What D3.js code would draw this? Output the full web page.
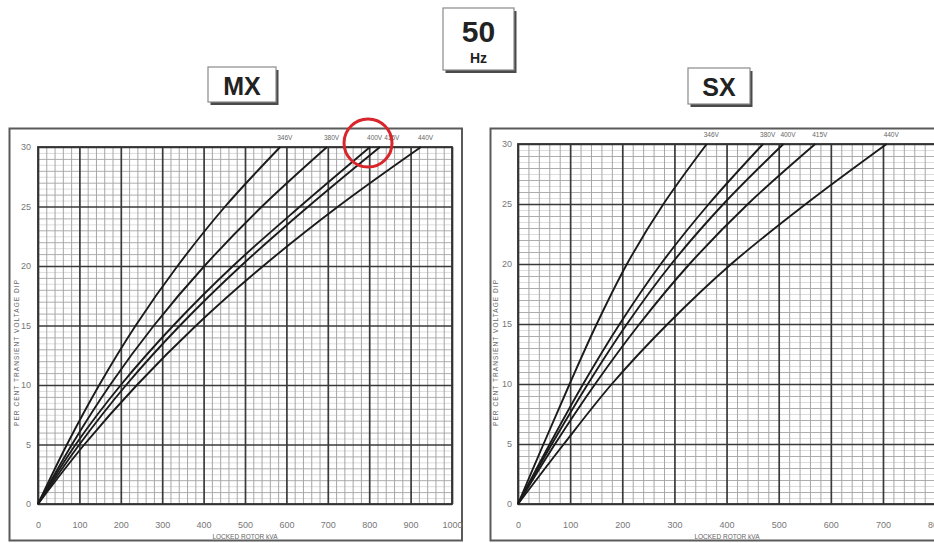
<!DOCTYPE html>
<html>
<head>
<meta charset="utf-8">
<script src="https://cdn.jsdelivr.net/npm/d3@7"></script>
<style>
  html, body { margin: 0; padding: 0; background: #fff; overflow: hidden; }
  svg { display: block; font-family: "Liberation Sans", Arial, sans-serif; }
</style>
</head>
<body>
<svg id="chart" width="934" height="543"></svg>
<script>
// Transient voltage dip (%) at which each curve is read
const dipLevels = [0, 5, 10, 15, 20, 25, 30];
const voltageLabels = ["346V", "380V", "400V", "415V", "440V"];

// MX excitation: locked rotor kVA reaching each dip level
const mx346 = [0, 70, 148, 236, 337, 452, 585];
const mx380 = [0, 82, 174, 280, 402, 541, 698];
const mx400 = [0, 91, 200, 327, 471, 633, 802];
const mx415 = [0, 100, 213, 343, 490, 653, 826];
const mx440 = [0, 112, 239, 382, 544, 725, 925];

// SX excitation: locked rotor kVA reaching each dip level
const sx346 = [0, 49, 99, 151, 209, 279, 362];
const sx380 = [0, 61, 125, 195, 274, 366, 470];
const sx400 = [0, 65, 134, 209, 294, 394, 509];
const sx415 = [0, 71, 148, 233, 329, 441, 570];
const sx440 = [0, 88, 180, 287, 409, 552, 707];

// Axis ticks
const dipTicks = [0, 5, 10, 15, 20, 25, 30];
const mxKvaTicks = [0, 100, 200, 300, 400, 500, 600, 700, 800, 900, 1000];
const sxKvaTicks = [0, 100, 200, 300, 400, 500, 600, 700, 800];

const svg = d3.select("#chart");
const tickFont = "'Liberation Sans Narrow', 'Liberation Sans', Arial, sans-serif";

function styleGrid(sel, color, width) {
  sel.select(".domain").remove();
  sel.selectAll(".tick line").attr("stroke", color).attr("stroke-width", width);
}

function drawPanel(cfg) {
  const g = svg.append("g");
  const x = d3.scaleLinear().domain([0, 1000]).range([cfg.left, cfg.right]);
  const y = d3.scaleLinear().domain([0, 30]).range([cfg.bottom, cfg.top]);
  const h = y(0) - y(30);
  const w = x(1000) - x(0);

  // panel frame
  g.append("rect")
    .attr("x", cfg.frame[0]).attr("y", cfg.frame[1])
    .attr("width", cfg.frame[2]).attr("height", cfg.frame[3])
    .attr("fill", "#fff").attr("stroke", "#5a5a5a").attr("stroke-width", 2);

  // half-percent lines
  const fineY = d3.range(0.5, 30, 0.5).filter(v => v % 1 !== 0);
  g.append("g").attr("transform", `translate(${x(0)},0)`)
    .call(d3.axisLeft(y).tickValues(fineY).tickSize(-w).tickFormat(""))
    .call(s => styleGrid(s, "#cfcfcf", 0.7));

  // minor grid: every 20 kVA / every 1 %
  const minorX = d3.range(20, 1000, 20).filter(v => v % 100 !== 0);
  const minorY = d3.range(1, 30, 1).filter(v => v % 5 !== 0);
  g.append("g").attr("transform", `translate(0,${y(0)})`)
    .call(d3.axisBottom(x).tickValues(minorX).tickSize(-h).tickFormat(""))
    .call(s => styleGrid(s, "#9d9d9d", 0.9));
  g.append("g").attr("transform", `translate(${x(0)},0)`)
    .call(d3.axisLeft(y).tickValues(minorY).tickSize(-w).tickFormat(""))
    .call(s => styleGrid(s, "#a5a5a5", 0.9));

  // major grid every 100 kVA (the full width), labelled where listed
  g.append("g").attr("transform", `translate(0,${y(0)})`)
    .call(d3.axisBottom(x).tickValues(mxKvaTicks).tickSize(-h).tickFormat(""))
    .call(s => styleGrid(s, "#3a3a3a", 1.7));
  const ax = g.append("g").attr("transform", `translate(0,${y(0)})`)
    .call(d3.axisBottom(x).tickValues(cfg.kvaTicks).tickSize(0).tickPadding(18).tickFormat(d3.format("d")));
  ax.select(".domain").remove();
  ax.selectAll(".tick text").attr("fill", "#777").attr("font-size", 9).attr("font-family", tickFont);

  const ay = g.append("g").attr("transform", `translate(${x(0)},0)`)
    .call(d3.axisLeft(y).tickValues(dipTicks).tickSize(-w).tickPadding(cfg.yPad).tickFormat(d3.format("d")));
  styleGrid(ay, "#3a3a3a", 1.7);
  ay.selectAll(".tick text").attr("fill", "#777").attr("font-size", 9).attr("font-family", tickFont);

  // plot border
  g.append("rect")
    .attr("x", x(0)).attr("y", y(30)).attr("width", w).attr("height", h)
    .attr("fill", "none").attr("stroke", "#333").attr("stroke-width", 1.8);

  // axis titles
  g.append("text")
    .attr("x", cfg.xTitleX).attr("y", 539)
    .attr("text-anchor", "middle").attr("font-size", 6.5).attr("fill", "#666")
    .text("LOCKED ROTOR kVA");
  g.append("text")
    .attr("transform", `translate(${cfg.yTitleX},353) rotate(-90)`)
    .attr("text-anchor", "middle").attr("font-size", 6.5).attr("fill", "#666")
    .attr("textLength", 146).attr("lengthAdjust", "spacing")
    .text("PER CENT TRANSIENT VOLTAGE DIP");

  // curves
  const line = d3.line().x(d => x(d[0])).y(d => y(d[1])).curve(d3.curveCatmullRom.alpha(0.5));
  const series = cfg.series.map((kvas, i) => ({
    label: voltageLabels[i],
    pts: kvas.map((k, j) => [k, dipLevels[j]])
  }));
  g.append("g").selectAll("path").data(series).join("path")
    .attr("d", d => line(d.pts))
    .attr("fill", "none").attr("stroke", "#1b1b1b").attr("stroke-width", 1.9)
    .attr("stroke-linejoin", "round");

  // voltage labels at the curve ends, nudged apart where crowded
  let prevRight = -Infinity;
  series.forEach(s => {
    const end = s.pts[s.pts.length - 1];
    let lx = x(end[0]) - 3;
    if (lx < prevRight + 2) lx = prevRight + 2;
    const t = g.append("text")
      .attr("x", lx).attr("y", y(30) - 7)
      .attr("font-size", 6.5).attr("fill", "#666")
      .text(s.label);
    prevRight = lx + t.node().getComputedTextLength();
  });

  return { x, y };
}

const mx = drawPanel({
  left: 38, right: 452, top: 147, bottom: 504,
  frame: [9.5, 128.5, 452.5, 412], yPad: 7, yTitleX: 19, xTitleX: 245,
  kvaTicks: mxKvaTicks,
  series: [mx346, mx380, mx400, mx415, mx440]
});

const sx = drawPanel({
  left: 518, right: 1039.4, top: 144, bottom: 504,
  frame: [490.5, 128.5, 480, 412], yPad: 6, yTitleX: 498, xTitleX: 727,
  kvaTicks: sxKvaTicks,
  series: [sx346, sx380, sx400, sx415, sx440]
});

// highlight ring around the 400V label of the MX chart
svg.append("circle")
  .attr("cx", mx.x(mx400[mx400.length - 1]) - 2)
  .attr("cy", mx.y(30) - 4)
  .attr("r", 24)
  .attr("fill", "none").attr("stroke", "#d8262b").attr("stroke-width", 3);

// title boxes
function titleBox(bx, by, bw, bh) {
  svg.append("rect").attr("x", bx + 2.5).attr("y", by + 3).attr("width", bw).attr("height", bh)
    .attr("fill", "#4a4a4a");
  svg.append("rect").attr("x", bx).attr("y", by).attr("width", bw).attr("height", bh)
    .attr("fill", "#fff").attr("stroke", "#8a8a8a").attr("stroke-width", 1.2);
}

titleBox(443, 8, 71, 62);
svg.append("text").attr("x", 478.5).attr("y", 42)
  .attr("text-anchor", "middle").attr("font-size", 30).attr("font-weight", "bold").attr("fill", "#222")
  .text("50");
svg.append("text").attr("x", 478.5).attr("y", 63)
  .attr("text-anchor", "middle").attr("font-size", 14).attr("font-weight", "bold").attr("fill", "#222")
  .text("Hz");

titleBox(208, 67, 68, 35);
svg.append("text").attr("x", 242).attr("y", 95)
  .attr("text-anchor", "middle").attr("font-size", 25).attr("font-weight", "bold").attr("fill", "#222")
  .text("MX");

titleBox(688, 68, 62, 36);
svg.append("text").attr("x", 719).attr("y", 96)
  .attr("text-anchor", "middle").attr("font-size", 25).attr("font-weight", "bold").attr("fill", "#222")
  .text("SX");
</script>
</body>
</html>
